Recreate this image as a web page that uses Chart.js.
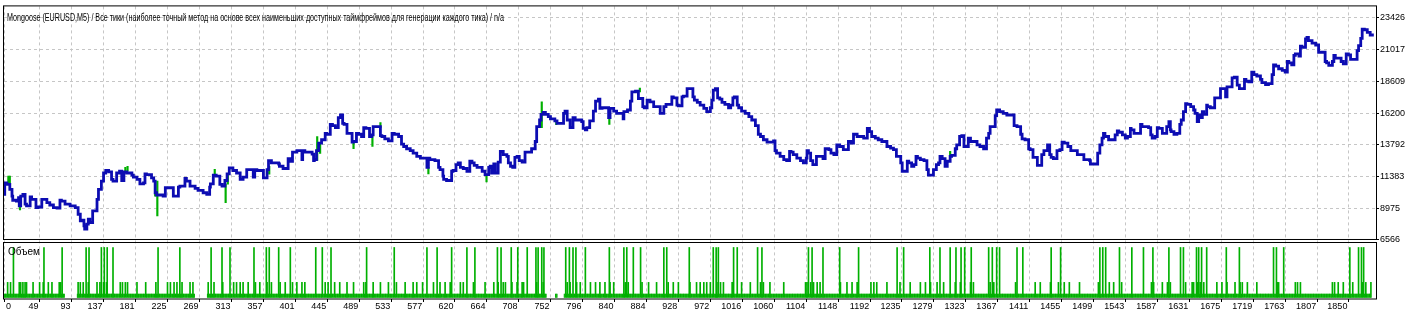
<!DOCTYPE html>
<html>
<head>
<meta charset="utf-8">
<script src="https://cdn.jsdelivr.net/npm/chart.js@4.4.1/dist/chart.umd.min.js"></script>
<style>
html, body { margin: 0; padding: 0; background: #fff; }
#wrap { width: 1420px; height: 316px; }
</style>
</head>
<body>
<div id="wrap"><canvas id="testerGraph" width="1420" height="316"></canvas></div>
<script>
const chartTitle = 'Mongoose (EURUSD,M5) / Все тики (наиболее точный метод на основе всех наименьших доступных таймфреймов для генерации каждого тика) / n/a'
const volumeTitle = 'Объем'

// y axis labels (right side) and trade number labels (bottom)
const priceTicks = [6566, 8975, 11383, 13792, 16200, 18609, 21017, 23426]
const tradeTicks = [0, 49, 93, 137, 181, 225, 269, 313, 357, 401, 445, 489, 533, 577, 620, 664, 708, 752, 796, 840, 884, 928, 972, 1016, 1060, 1104, 1148, 1192, 1235, 1279, 1323, 1367, 1411, 1455, 1499, 1543, 1587, 1631, 1675, 1719, 1763, 1807, 1850]

// balance curve (trade number / balance)
const balanceTrade = [
  0,1,4,8,11,12,17,20,21,23,26,29,31,36,38,44,47,52,54,59,63,68,73,77,79,84,91,98,102,105,107,110,111,114,116,118,122,125,128,130,134,137,140,144,148,150,155,159,162,165,169,176,178,183,187,192,194,196,203,206,208,210,219,222,224,233,235,240,242,249,251,256,263,267,274,279,283,284,288,292,297,300,304,307,310,315,320,325,329,334,336,343,345,348,357,362,364,368,378,
  379,384,391,394,397,403,410,411,414,424,426,427,430,433,437,442,444,449,452,456,460,463,466,468,472,474,479,481,485,488,492,495,498,503,506,508,511,518,520,524,529,534,537,543,547,550,554,559,563,568,573,577,582,584,586,593,598,600,604,605,609,616,618,622,625,628,632,637,641,644,647,651,658,662,664,667,669,671,674,676,680,683,687,692,694,697,700,703,706,709,713,717,720,726,731,733,737,739,742,745,749,
  752,758,761,770,772,775,779,783,786,795,797,800,802,806,807,811,814,818,820,823,832,834,839,843,848,852,853,858,862,864,869,873,875,879,881,885,889,894,903,908,911,919,921,926,928,933,935,940,943,948,950,954,958,963,967,972,974,976,979,982,985,988,992,997,1000,1003,1005,1009,1011,1015,1020,1025,1029,1034,1038,1041,1045,1050,1059,1061,1063,1068,1073,1077,1081,1083,1086,1091,1096,1100,1104,1105,1107,1110,1113,1118,1121,
  1127,1130,1135,1138,1142,1146,1150,1155,1158,1162,1166,1169,1174,1183,1188,1191,1194,1199,1203,1208,1215,1220,1224,1228,1231,1234,1236,1238,1243,1245,1249,1252,1255,1257,1261,1266,1270,1272,1279,1283,1286,1288,1291,1295,1298,1302,1304,1309,1311,1315,1318,1321,1323,1327,1330,1339,1343,1348,1352,1355,1357,1360,1364,1366,1370,1375,1380,1390,1394,1399,1401,1405,1410,1412,1416,1418,1422,1425,1428,1431,1436,1439,1441,1444,1449,1453,1456,1459,1464,1468,1477,1486,1494,
  1495,1503,1505,1508,1511,1513,1515,1520,1529,1532,1534,1539,1543,1546,1550,1551,1555,1559,1564,1566,1575,1578,1580,1584,1587,1589,1594,1596,1600,1603,1605,1606,1610,1614,1618,1620,1623,1626,1628,1633,1637,1639,1642,1644,1646,1649,1651,1655,1656,1660,1666,1668,1674,1676,1681,1683,1685,1690,1693,1697,1700,1704,1707,1709,1713,1717,1720,1724,1729,1731,1736,1740,1745,1747,1750,1754,1759,1763,1766,1768,1772,1775,1777,1782,1784,1786,1791,1793,1795,1800,1805,1809,1812,1818,1820,1823,1828,1830,1832,1840,1843,1847,1850,1853,1857,1862,1864,1867,1869,1872,1876,1880,1883,1885
]
const balance = [
  10030,10030,10900,10780,10400,9900,9580,9520,9770,9150,9900,10030,9280,9150,9830,9650,9020,9070,9650,9650,9400,9220,9020,8980,9580,9520,9280,9150,9020,8520,8020,8070,7640,7390,7770,8150,7890,8770,8770,9650,10400,11030,11650,11840,11730,11160,11030,11650,11780,11080,11730,11650,11480,11330,11160,10830,10900,11580,11530,11280,11030,10150,9980,9900,10530,10530,9900,9900,10580,10650,11230,11030,10650,10480,10330,10150,10030,10580,10830,11480,11410,10780,10650,11080,11580,12030,11840,11650,11160,11330,11910,11910,11330,11910,11840,11280,11910,12590,12410,
  12330,12160,11990,12740,12540,13230,13340,12660,13340,13230,13080,12590,12660,13340,13910,14170,14660,14590,15340,15240,15090,15850,16050,15420,15340,14660,14660,13990,14040,14660,14590,14420,15090,15040,14420,14540,15170,15170,14490,14420,14240,14090,14660,14590,14420,13840,13660,13490,13340,13160,12910,12780,12780,12080,12780,12660,12590,12080,11910,11410,11160,11080,11780,11840,12290,12410,12080,11990,11780,12540,12410,12230,12080,11780,11530,11530,12080,12160,11650,12330,11650,12480,13290,13040,12910,12410,12160,12080,12840,12910,12590,12480,13230,13230,13490,14040,15170,15670,16100,16250,16100,
  15920,15750,15600,15420,16170,16350,15670,15090,15850,15670,15550,15040,14920,15090,15600,15600,16350,17100,17250,16550,16600,15850,16550,16350,16170,16170,15750,16300,16430,17100,17800,17860,17300,17300,16680,16600,17180,17050,16680,16170,16680,16850,17430,17350,16800,16750,17430,17480,18050,18050,17430,17180,17000,16800,16550,16300,16600,17180,17930,18050,17350,17250,17000,16850,16600,16800,17350,17430,16800,16600,16350,16170,15920,15670,15240,14590,14420,14170,13990,14090,13340,13160,12910,12660,12590,13290,13230,13040,12780,12590,12410,12780,13340,13160,12590,12290,12910,
  12910,12740,13490,13420,13160,13040,13790,13660,13420,13420,14040,13910,14590,14420,14290,15040,14790,14420,14290,14170,14040,13660,13540,13420,12910,12910,12410,11780,11780,12540,12410,12160,12290,12910,12780,12660,12590,11910,11480,11910,12290,12410,12910,12740,12160,12540,12910,12990,13490,13790,14420,14490,13660,13660,14290,14040,13790,13660,13490,14290,14660,15170,15170,16000,16430,16300,16170,16050,15240,15170,14590,14240,14170,13490,13420,12840,12840,12230,12230,13040,13340,13790,13040,12840,12740,13340,13420,13990,13910,13660,13340,13040,12660,
  12590,12330,12330,13160,13790,14290,14660,14420,14170,14540,14850,14740,14540,14290,14420,15040,14920,14660,14660,15340,15170,15090,14540,14290,14420,15090,15040,14660,14660,15170,15550,14920,14790,14590,14660,15340,15670,16300,16920,16850,16680,16430,16170,15550,16050,15850,16300,16100,16800,16680,16600,17350,17350,18050,18050,17430,18180,18180,18860,18930,18310,18050,18050,18760,18610,18560,19310,19110,19010,18760,18500,18350,18430,19110,19860,19760,19560,19440,19310,20110,20010,19860,20570,20690,20510,21270,21190,21820,21940,21700,21510,21360,20810,20810,20110,20010,19810,20110,20570,20360,20110,19930,20690,20610,20270,20270,20940,21320,21870,22570,22520,22320,22120,22120
]

// equity excursions (green marks behind the balance line)
const equityTrade = [6, 8, 22, 167, 170, 208, 211, 290, 305, 308, 365, 431, 435, 481, 507, 518, 584, 664, 740, 760, 833, 875, 1302]
const equityLow = [10800, 10900, 8850, 11780, 11780, 9900, 8400, 11410, 9390, 10800, 11560, 12610, 13140, 13490, 13660, 15090, 11580, 10980, 15090, 15320, 15340, 17800, 12910]
const equityHigh = [11410, 11410, 9150, 12080, 12160, 11030, 11030, 11930, 10800, 11630, 12160, 14420, 13890, 14040, 14490, 15470, 12080, 11560, 17050, 15620, 15850, 18100, 13290]

// lot histogram: three sizes seen in the picture
const lotLevels = [1, 4.5, 15]
const smallRuns = [[0, 83], [101, 262], [280, 746], [759, 761], [771, 1881]]
const midTrades = [5,9,21,23,26,29,31,40,49,54,61,66,76,78,102,105,109,116,128,132,137,141,160,163,167,170,183,195,209,225,229,234,238,245,256,260,281,289,301,316,320,325,329,336,346,352,362,368,380,387,397,403,410,414,438,442,446,450,455,462,472,481,495,498,508,518,529,540,552,563,568,576,591,596,600,607,614,628,632,646,
  662,674,680,684,687,690,699,706,713,715,733,742,773,775,779,788,793,800,807,814,820,827,834,839,855,859,866,878,887,898,908,914,921,928,944,953,958,963,967,972,976,981,986,990,1002,1009,1015,1027,1041,1045,1054,1073,1103,1105,1110,1114,1119,1123,1151,1160,1167,1174,1193,1197,1201,1215,1229,1233,1238,1247,1261,1268,1275,1284,1293,
  1309,1316,1330,1334,1355,1357,1362,1370,1392,1419,1426,1440,1451,1459,1466,1480,1506,1521,1527,1538,1552,1579,1582,1594,1601,1605,1619,1623,1626,1635,1637,1642,1646,1651,1655,1669,1676,1683,1694,1701,1704,1711,1724,1747,1752,1754,1777,1780,1784,1828,1831,1836,1843,1852,1856,1864,1869,1874,1881]
const tallTrades = [13,55,80,113,117,134,138,142,150,212,242,285,300,311,344,361,365,378,394,429,438,450,499,537,582,596,616,637,648,679,684,698,707,720,732,735,740,743,773,778,783,787,800,833,853,857,866,876,908,912,943,976,980,983,1004,1009,1037,1043,1107,1112,1127,1150,1176,1229,1238,1274,1288,1302,1310,1317,1322,1331,1355,1360,1366,1370,1394,1402,1441,1454,1508,1512,1516,1535,1552,1568,1581,1603,1619,1623,1641,1644,1648,1655,1682,1700,1747,1751,1761,1852,1864,1868,1871]


const lots = []
smallRuns.forEach(([a, b]) => { for (let t = a; t <= b; t++) lots[t] = lotLevels[0] })
midTrades.forEach(t => { lots[t] = Math.max(lots[t] || 0, lotLevels[1]) })
tallTrades.forEach(t => { lots[t] = lotLevels[2] })
const smallLotPoints = []
const bigLotPoints = []
lots.forEach((v, t) => {
  if (!v) return
  if (v === lotLevels[0]) smallLotPoints.push({ x: t, y: v })
  else bigLotPoints.push({ x: t, y: v })
})

const n = Math.min(balanceTrade.length, balance.length)
const balancePoints = []
for (let i = 0; i < n; i++) balancePoints.push({ x: balanceTrade[i], y: balance[i] })

const equityPoints = equityTrade.map((t, i) => ({ x: t, y: [equityLow[i], equityHigh[i]] }))

const gridGrey = '#c6c6c6'
const lotGreen = '#00b000'
const font9 = { family: '"Liberation Sans", Arial, sans-serif', size: 9 }

// frames, title text, trade labels
const testerDecor = {
  id: 'testerDecor',
  afterDraw(chart) {
    const ctx = chart.ctx
    const x = chart.scales.x, y = chart.scales.y, yv = chart.scales.yv
    ctx.save()
    ctx.strokeStyle = '#000'
    ctx.lineWidth = 1
    ctx.strokeRect(x.left - 0.5, y.top - 0.5, x.right - x.left + 1, y.bottom - y.top)
    const vTop = Math.round(yv.top) + 2.5
    ctx.strokeRect(x.left - 0.5, vTop, x.right - x.left + 1, yv.bottom - vTop)

    ctx.fillStyle = '#000'
    ctx.font = '10px "Liberation Sans Narrow", "Liberation Sans", Arial, sans-serif'
    ctx.textBaseline = 'alphabetic'
    ctx.textAlign = 'left'
    ctx.fillText(chartTitle, x.left + 3, y.top + 15, 497)
    ctx.font = '10px "Liberation Sans", Arial, sans-serif'
    ctx.fillText(volumeTitle, x.left + 4, vTop + 12)

    ctx.font = '9px "Liberation Sans", Arial, sans-serif'
    ctx.textBaseline = 'middle'
    tradeTicks.forEach(t => {
      const px = x.getPixelForValue(t)
      if (t === 0) {
        ctx.textAlign = 'left'
        ctx.fillText(String(t), px + 2, x.top + 8)
      } else {
        ctx.textAlign = 'right'
        ctx.fillText(String(t), px - 1, x.top + 8)
      }
    })
    ctx.restore()
  }
}

const ctx = document.getElementById('testerGraph')

const testerChart = new Chart(ctx, {
  type: 'line',
  data: {
    datasets: [
      {
        type: 'bar',
        label: 'Equity',
        data: equityPoints,
        backgroundColor: lotGreen,
        barThickness: 1.5,
        grouped: false,
        yAxisID: 'y',
        order: 4
      },
      {
        type: 'line',
        label: 'Balance',
        data: balancePoints,
        borderColor: '#0c0cb2',
        borderWidth: 2.8,
        pointRadius: 0,
        stepped: 'after',
        fill: false,
        yAxisID: 'y',
        order: 1
      },
      {
        type: 'bar',
        label: volumeTitle,
        data: bigLotPoints,
        backgroundColor: lotGreen,
        barThickness: 1,
        grouped: false,
        yAxisID: 'yv',
        order: 2
      },
      {
        type: 'bar',
        label: volumeTitle,
        data: smallLotPoints,
        backgroundColor: lotGreen,
        barThickness: 0.45,
        grouped: false,
        yAxisID: 'yv',
        order: 3
      }
    ]
  },
  options: {
    responsive: false,
    devicePixelRatio: 1,
    animation: false,
    events: [],
    layout: { padding: { left: 4, top: 4, right: 0, bottom: 0 } },
    plugins: {
      legend: { display: false },
      tooltip: { enabled: false },
      title: { display: false }
    },
    scales: {
      x: {
        type: 'linear',
        min: 0,
        max: 1888,
        offset: false,
        afterBuildTicks: s => { s.ticks = tradeTicks.map(v => ({ value: v })) },
        afterFit: s => { s.height = 17 },
        ticks: { display: false },
        grid: {
          color: gridGrey,
          offset: false,
          drawTicks: true,
          tickLength: 3,
          tickColor: '#000',
          tickBorderDash: []
        },
        border: { display: false, dash: [3, 3] }
      },
      y: {
        type: 'linear',
        position: 'right',
        stack: 'panes',
        stackWeight: 235.5,
        min: 6566,
        max: 24290,
        afterBuildTicks: s => { s.ticks = priceTicks.map(v => ({ value: v })) },
        afterFit: s => { s.width = 44 },
        ticks: {
          color: '#000',
          font: font9,
          padding: 1,
          autoSkip: false,
          callback: v => String(v)
        },
        grid: {
          color: gridGrey,
          drawTicks: true,
          tickLength: 3,
          tickColor: '#000',
          tickBorderDash: []
        },
        border: { display: false, dash: [3, 3] }
      },
      yv: {
        type: 'linear',
        position: 'right',
        stack: 'panes',
        stackWeight: 59.5,
        min: -0.5,
        max: 17.25,
        afterFit: s => { s.width = 44 },
        ticks: { display: false },
        grid: { display: false },
        border: { display: false }
      }
    }
  },
  plugins: [testerDecor]
})
</script>
</body>
</html>
